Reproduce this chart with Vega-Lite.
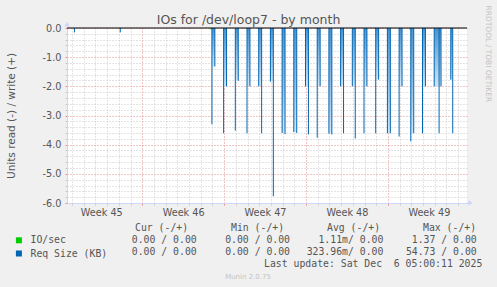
{
  "$schema": "https://vega.github.io/schema/vega-lite/v6.json",
  "width": 400,
  "height": 175,
  "autosize": {"type": "none"},
  "padding": {"left": 67, "top": 28, "right": 30, "bottom": 84},
  "background": "#f0f0f0",
  "config": {"view": {"fill": "#ffffff", "stroke": null}, "font": "DejaVu Sans"},
  "title": {"text": "IOs for /dev/loop7 - by month", "font": "DejaVu Sans", "fontSize": 12.5, "fontWeight": "normal", "color": "#555555", "anchor": "middle", "frame": "group", "baseline": "alphabetic", "dx": -18.5, "dy": 35, "offset": 4},
  "datasets": {
    "spikes": [
      {"day": 0.2083, "value": -0.15, "series": "Req Size (KB)"},
      {"day": 4.125, "value": -0.15, "series": "Req Size (KB)"},
      {"day": 11.875, "value": -0.05, "series": "IO/sec"},
      {"day": 28.875, "value": -0.05, "series": "IO/sec"},
      {"day": 11.9583, "value": -3.3, "series": "Req Size (KB)"},
      {"day": 12.2083, "value": -1.32, "series": "Req Size (KB)"},
      {"day": 12.9583, "value": -3.61, "series": "Req Size (KB)"},
      {"day": 13.2083, "value": -2.0, "series": "Req Size (KB)"},
      {"day": 13.9583, "value": -3.52, "series": "Req Size (KB)"},
      {"day": 14.2083, "value": -1.81, "series": "Req Size (KB)"},
      {"day": 14.9583, "value": -3.61, "series": "Req Size (KB)"},
      {"day": 15.2083, "value": -2.0, "series": "Req Size (KB)"},
      {"day": 15.9583, "value": -2.0, "series": "Req Size (KB)"},
      {"day": 16.2083, "value": -3.61, "series": "Req Size (KB)"},
      {"day": 16.9583, "value": -1.84, "series": "Req Size (KB)"},
      {"day": 17.2083, "value": -5.77, "series": "Req Size (KB)"},
      {"day": 17.9583, "value": -3.6, "series": "Req Size (KB)"},
      {"day": 18.2083, "value": -3.64, "series": "Req Size (KB)"},
      {"day": 18.9583, "value": -3.57, "series": "Req Size (KB)"},
      {"day": 19.2083, "value": -3.6, "series": "Req Size (KB)"},
      {"day": 19.9583, "value": -2.0, "series": "Req Size (KB)"},
      {"day": 20.2083, "value": -3.65, "series": "Req Size (KB)"},
      {"day": 20.9583, "value": -3.76, "series": "Req Size (KB)"},
      {"day": 21.2083, "value": -2.0, "series": "Req Size (KB)"},
      {"day": 21.9583, "value": -3.62, "series": "Req Size (KB)"},
      {"day": 22.2083, "value": -3.65, "series": "Req Size (KB)"},
      {"day": 22.9583, "value": -2.0, "series": "Req Size (KB)"},
      {"day": 23.2083, "value": -3.61, "series": "Req Size (KB)"},
      {"day": 23.9583, "value": -2.0, "series": "Req Size (KB)"},
      {"day": 24.2083, "value": -3.79, "series": "Req Size (KB)"},
      {"day": 24.9583, "value": -3.61, "series": "Req Size (KB)"},
      {"day": 25.2083, "value": -2.0, "series": "Req Size (KB)"},
      {"day": 25.9583, "value": -3.61, "series": "Req Size (KB)"},
      {"day": 26.2083, "value": -1.77, "series": "Req Size (KB)"},
      {"day": 26.9583, "value": -3.61, "series": "Req Size (KB)"},
      {"day": 27.2083, "value": -3.61, "series": "Req Size (KB)"},
      {"day": 27.9583, "value": -3.72, "series": "Req Size (KB)"},
      {"day": 28.2083, "value": -2.0, "series": "Req Size (KB)"},
      {"day": 28.9583, "value": -3.89, "series": "Req Size (KB)"},
      {"day": 29.2083, "value": -3.61, "series": "Req Size (KB)"},
      {"day": 29.9583, "value": -3.61, "series": "Req Size (KB)"},
      {"day": 30.2083, "value": -2.0, "series": "Req Size (KB)"},
      {"day": 30.9583, "value": -2.0, "series": "Req Size (KB)"},
      {"day": 31.375, "value": -3.61, "series": "Req Size (KB)"},
      {"day": 31.5417, "value": -2.0, "series": "Req Size (KB)"},
      {"day": 32.375, "value": -1.77, "series": "Req Size (KB)"},
      {"day": 32.5417, "value": -3.61, "series": "Req Size (KB)"}
    ],
    "fills": [
      {"day": 11.9583, "day2": 12.2083, "value": -1.32},
      {"day": 12.9583, "day2": 13.2083, "value": -2.0},
      {"day": 13.9583, "day2": 14.2083, "value": -1.81},
      {"day": 14.9583, "day2": 15.2083, "value": -2.0},
      {"day": 15.9583, "day2": 16.2083, "value": -2.0},
      {"day": 16.9583, "day2": 17.2083, "value": -1.84},
      {"day": 17.9583, "day2": 18.2083, "value": -3.6},
      {"day": 18.9583, "day2": 19.2083, "value": -3.57},
      {"day": 19.9583, "day2": 20.2083, "value": -2.0},
      {"day": 20.9583, "day2": 21.2083, "value": -2.0},
      {"day": 21.9583, "day2": 22.2083, "value": -3.62},
      {"day": 22.9583, "day2": 23.2083, "value": -2.0},
      {"day": 23.9583, "day2": 24.2083, "value": -2.0},
      {"day": 24.9583, "day2": 25.2083, "value": -2.0},
      {"day": 25.9583, "day2": 26.2083, "value": -1.77},
      {"day": 26.9583, "day2": 27.2083, "value": -3.61},
      {"day": 27.9583, "day2": 28.2083, "value": -2.0},
      {"day": 28.9583, "day2": 29.2083, "value": -3.61},
      {"day": 29.9583, "day2": 30.2083, "value": -2.0},
      {"day": 30.9583, "day2": 31.5417, "value": -2.0},
      {"day": 32.375, "day2": 32.5417, "value": -1.77}
    ],
    "stats": [
      {"series": "IO/sec", "stat": "Cur", "text": "0.00 / 0.00"},
      {"series": "IO/sec", "stat": "Min", "text": "0.00 / 0.00"},
      {"series": "IO/sec", "stat": "Avg", "text": "1.11m/ 0.00"},
      {"series": "IO/sec", "stat": "Max", "text": "1.37 / 0.00"},
      {"series": "Req Size (KB)", "stat": "Cur", "text": "0.00 / 0.00"},
      {"series": "Req Size (KB)", "stat": "Min", "text": "0.00 / 0.00"},
      {"series": "Req Size (KB)", "stat": "Avg", "text": "323.96m/ 0.00"},
      {"series": "Req Size (KB)", "stat": "Max", "text": "54.73 / 0.00"}
    ],
    "heads": [
      {"stat": "Cur", "text": "Cur (-/+)"},
      {"stat": "Min", "text": "Min (-/+)"},
      {"stat": "Avg", "text": "Avg (-/+)"},
      {"stat": "Max", "text": "Max (-/+)"}
    ],
    "notes": [
      {"row": "update", "text": "Last update: Sat Dec\u00a0 6 05:00:11 2025"}
    ],
    "version": [
      {"row": "version", "text": "Munin 2.0.75"}
    ]
  },
  "layer": [
    {
      "encoding": {
        "x": {
          "field": "day", "type": "quantitative", "title": null,
          "scale": {"domain": [0, 33.3333], "nice": false, "zero": false},
          "axis": {
            "values": [0,1,2,3,4,5,6,7,8,9,10,11,12,13,14,15,16,17,18,19,20,21,22,23,24,25,26,27,28,29,30,31,32,33,2.5,9.5,16.5,23.5,30.5],
            "labelExpr": "datum.value % 1 != 0 ? 'Week ' + (45 + (datum.value - 2.5) / 7) : ''",
            "labelOverlap": false, "labelFlush": false, "labelBound": false,
            "labelFont": "DejaVu Sans", "labelFontSize": 9.7, "labelColor": "#555555", "labelPadding": 2,
            "tickSize": 2,
            "tickOpacity": {"condition": {"test": "datum.value % 1 != 0", "value": 0}, "value": 1},
            "tickColor": {"condition": {"test": "indexof([6,13,20,27], datum.value) >= 0", "value": "#e08a8a"}, "value": "#c8c8c8"},
            "grid": true,
            "gridOpacity": {"condition": {"test": "datum.value % 1 != 0", "value": 0}, "value": 1},
            "gridColor": {"condition": {"test": "indexof([6,13,20,27], datum.value) >= 0", "value": "#e08a8a"}, "value": "#c8c8c8"},
            "gridDash": [1, 2],
            "domainColor": "#cfd6f8"
          }
        },
        "y": {
          "field": "value", "type": "quantitative", "title": "Units read (-) / write (+)",
          "scale": {"domain": [-6, 0], "nice": false, "zero": false},
          "axis": {
            "values": [-6,-5.8,-5.6,-5.4,-5.2,-5,-4.8,-4.6,-4.4,-4.2,-4,-3.8,-3.6,-3.4,-3.2,-3,-2.8,-2.6,-2.4,-2.2,-2,-1.8,-1.6,-1.4,-1.2,-1,-0.8,-0.6,-0.4,-0.2,0],
            "labelExpr": "datum.value % 1 == 0 ? (datum.value == 0 ? '0.0' : '-' + abs(datum.value) + '.0') : ''",
            "labelOverlap": false, "labelFlush": false, "labelBound": false,
            "labelFont": "DejaVu Sans", "labelFontSize": 9.7, "labelColor": "#555555", "labelPadding": 4,
            "tickSize": 2,
            "tickColor": {"condition": {"test": "datum.value % 1 == 0", "value": "#e08a8a"}, "value": "#c8c8c8"},
            "grid": true,
            "gridColor": {"condition": {"test": "datum.value % 1 == 0", "value": "#e08a8a"}, "value": "#c8c8c8"},
            "gridDash": [1, 2],
            "domainColor": "#cfd6f8",
            "titleFont": "DejaVu Sans", "titleFontSize": 10.5, "titleFontWeight": "normal", "titleColor": "#555555",
            "titleX": -56, "titleBaseline": "middle"
          }
        }
      },
      "layer": [
        {
          "data": {"name": "fills"},
          "mark": {"type": "rect", "color": {"gradient": "linear", "x1": 0, "y1": 0, "x2": 0, "y2": 1, "stops": [{"offset": 0, "color": "#4a93cf"}, {"offset": 1, "color": "#d3e5f5"}]}},
          "encoding": {"x2": {"field": "day2"}, "y2": {"datum": 0}}
        },
        {
          "data": {"name": "spikes"},
          "mark": {"type": "rule", "strokeWidth": 1},
          "encoding": {
            "y2": {"datum": 0},
            "stroke": {
              "field": "series", "type": "nominal",
              "scale": {"domain": ["IO/sec", "Req Size (KB)"], "range": ["#00cc00", "#0066b3"]},
              "legend": null
            }
          }
        },
        {
          "data": {"name": "spikes"},
          "mark": {"type": "bar", "width": 1, "opacity": 0},
          "encoding": {
            "y2": {"datum": 0},
            "color": {
              "field": "series", "type": "nominal",
              "scale": {"domain": ["IO/sec", "Req Size (KB)"], "range": ["#00cc00", "#0066b3"]},
              "legend": {"orient": "none", "legendX": -53, "legendY": 207.4, "direction": "vertical", "title": null, "symbolType": "square", "symbolSize": 36, "symbolOpacity": 1, "symbolStrokeWidth": 0, "labelFont": "DejaVu Sans Mono", "labelFontSize": 9.8, "labelColor": "#555555", "labelOffset": 6.7, "rowPadding": 2.2, "padding": 0}
            }
          }
        }
      ]
    },
    {
      "data": {"name": "version"},
      "mark": {"type": "rule", "color": "#000000", "strokeWidth": 1},
      "encoding": {
        "y": {
          "datum": 0, "type": "quantitative",
          "scale": {"domain": [-6, 0], "nice": false, "zero": false},
          "axis": {"orient": "right", "title": "RRDTOOL / TOBI OETIKER", "labels": false, "ticks": false, "domain": false, "grid": false, "titleFont": "DejaVu Sans", "titleFontSize": 7.5, "titleFontWeight": "normal", "titleColor": "#c4c4c4", "titleAngle": 90, "titleAlign": "left", "titleBaseline": "middle", "titleX": 20.5, "titleY": -23}
        }
      }
    },
    {
      "data": {"name": "version"},
      "mark": {"type": "point", "shape": "triangle-up", "filled": true, "size": 30, "color": "#cfd6f8", "opacity": 1},
      "encoding": {
        "x": {"datum": 0, "type": "quantitative", "scale": {"domain": [0, 33.3333], "nice": false, "zero": false}, "axis": null},
        "y": {"datum": 0.13, "type": "quantitative", "scale": {"domain": [-6, 0], "nice": false, "zero": false}, "axis": null}
      }
    },
    {
      "data": {"name": "version"},
      "mark": {"type": "point", "shape": "triangle-right", "filled": true, "size": 30, "color": "#cfd6f8", "opacity": 1},
      "encoding": {
        "x": {"datum": 33.625, "type": "quantitative", "scale": {"domain": [0, 33.3333], "nice": false, "zero": false}, "axis": null},
        "y": {"datum": -6, "type": "quantitative", "scale": {"domain": [-6, 0], "nice": false, "zero": false}, "axis": null}
      }
    },
    {
      "data": {"name": "heads"},
      "mark": {"type": "text", "align": "left", "baseline": "alphabetic", "font": "DejaVu Sans Mono", "fontSize": 9.8, "color": "#555555"},
      "encoding": {
        "text": {"field": "text"},
        "x": {"field": "stat", "type": "nominal", "scale": {"type": "point", "domain": ["Cur", "Min", "Avg", "Max"], "range": [68, 356], "padding": 0}, "axis": null},
        "y": {"datum": "head", "type": "nominal", "scale": {"type": "point", "domain": ["head", "IO/sec", "Req Size (KB)", "update", "version"], "range": [203, 251], "padding": 0}, "axis": null}
      }
    },
    {
      "encoding": {
        "x": {"field": "stat", "type": "nominal", "scale": {"type": "point", "domain": ["Cur", "Min", "Avg", "Max"], "range": [129.7, 409.7], "padding": 0}, "axis": null},
        "y": {"field": "series", "type": "nominal", "scale": {"type": "point", "domain": ["head", "IO/sec", "Req Size (KB)", "update", "version"], "range": [203, 251], "padding": 0}, "axis": null},
        "text": {"field": "text"}
      },
      "layer": [
        {
          "data": {"name": "stats"},
          "mark": {"type": "text", "align": "right", "baseline": "alphabetic", "font": "DejaVu Sans Mono", "fontSize": 9.8, "color": "#555555"}
        },
        {
          "data": {"name": "notes"},
          "mark": {"type": "text", "align": "right", "baseline": "alphabetic", "font": "DejaVu Sans Mono", "fontSize": 9.8, "color": "#555555", "dx": 5.6},
          "encoding": {"x": {"datum": "Max"}, "y": {"field": "row"}}
        },
        {
          "data": {"name": "version"},
          "mark": {"type": "text", "align": "center", "baseline": "alphabetic", "font": "DejaVu Sans", "fontSize": 7, "color": "#c4c4c4", "dx": -42},
          "encoding": {"x": {"datum": "Min"}, "y": {"field": "row"}}
        }
      ]
    }
  ],
  "resolve": {"scale": {"x": "independent", "y": "independent", "color": "independent"}}
}
